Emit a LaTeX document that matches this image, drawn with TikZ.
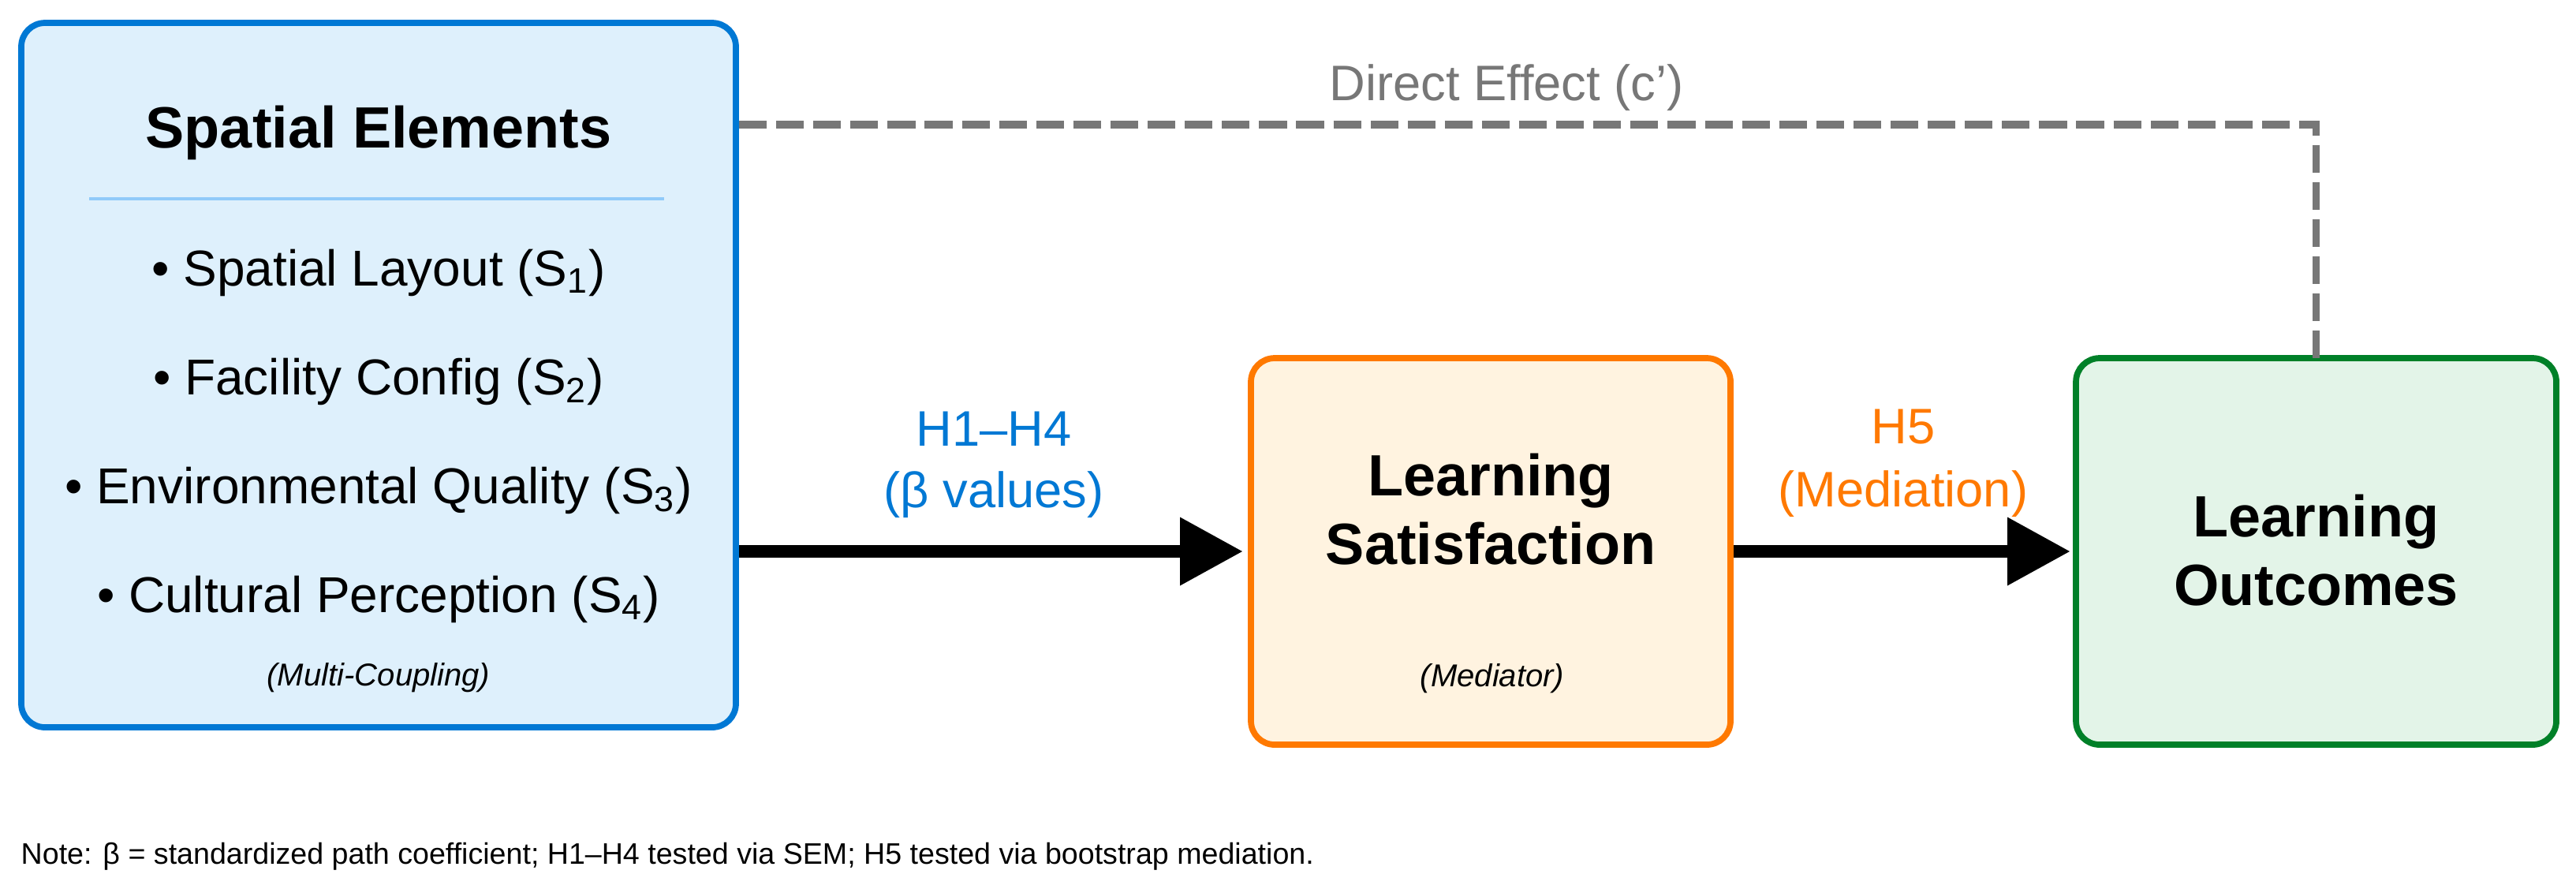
\documentclass[tikz,border=0pt]{standalone}
\usepackage{fontspec}
\setmainfont{Liberation Sans}
\usetikzlibrary{arrows.meta,calc}
\definecolor{bluebd}{RGB}{0,120,212}
\definecolor{bluefill}{RGB}{222,240,252}
\definecolor{sepblue}{RGB}{144,202,249}
\definecolor{orangebd}{RGB}{255,121,0}
\definecolor{orangefill}{RGB}{255,243,224}
\definecolor{greenbd}{RGB}{0,128,40}
\definecolor{greenfill}{RGB}{227,244,232}
\definecolor{dashgray}{RGB}{119,119,119}
\begin{document}
\begin{tikzpicture}[x=1cm,y=1cm,
  box/.style={draw, line width=2.2pt, rounded corners=0.3cm, inner sep=0pt, outer sep=0pt},
  boxtitle/.style={font=\fontsize{21}{25}\selectfont\bfseries, inner sep=0pt, anchor=base},
  itemtext/.style={font=\fontsize{18.2}{22}\selectfont, inner sep=0pt, anchor=base},
  lbl/.style={font=\fontsize{18}{22}\selectfont, inner sep=0pt, anchor=base},
  smallnote/.style={font=\fontsize{11.4}{14}\selectfont\itshape, inner sep=0pt, anchor=base},
  notetext/.style={font=\fontsize{10.7}{13}\selectfont, inner sep=0pt, anchor=base west},
  arr/.style={draw=black, line width=4.8pt, -{Triangle[length=0.80cm,width=0.82cm]}},
  dashline/.style={draw=dashgray, line width=2.6pt, dash pattern=on 10pt off 3.4pt}
]
\useasboundingbox (0,0) rectangle (32.66,-11.07);
\fill[white] (0,0) rectangle (32.66,-11.07);

% boxes
\node[box, draw=bluebd, fill=bluefill, minimum width=9.06cm, minimum height=8.93cm] (blue) at (4.80,-4.755) {};
\node[box, draw=orangebd, fill=orangefill, minimum width=6.08cm, minimum height=4.90cm] (orange) at (18.90,-6.99) {};
\node[box, draw=greenbd, fill=greenfill, minimum width=6.09cm, minimum height=4.90cm] (green) at (29.365,-6.99) {};

% spatial elements content
\node[boxtitle] (setitle) at (4.80,-1.87) {Spatial Elements};
\coordinate (sepL) at (1.13,-2.52);
\coordinate (sepR) at (8.42,-2.52);
\draw[sepblue, line width=0.9pt] (sepL) -- (sepR);
\node[itemtext] (s1) at (4.80,-3.62) {• Spatial Layout (S\textsubscript{1})};
\node[itemtext] (s2) at (4.80,-5.00) {• Facility Config (S\textsubscript{2})};
\node[itemtext] (s3) at (4.80,-6.38) {• Environmental Quality (S\textsubscript{3})};
\node[itemtext] (s4) at (4.80,-7.76) {• Cultural Perception (S\textsubscript{4})};
\node[smallnote] (mc) at (4.80,-8.69) {(Multi-Coupling)};

% mediator content
\node[boxtitle] (ls1) at (18.90,-6.28) {Learning};
\node[boxtitle] (ls2) at (18.90,-7.15) {Satisfaction};
\node[smallnote] (med) at (18.92,-8.70) {(Mediator)};

% outcome content
\node[boxtitle] (lo1) at (29.365,-6.80) {Learning};
\node[boxtitle] (lo2) at (29.365,-7.67) {Outcomes};

% arrows
\draw[arr, shorten <=0.04cm, shorten >=0.10cm] (blue.east |- orange.west) -- (orange.west);
\draw[arr, shorten <=0.04cm, shorten >=0.07cm] (orange.east) -- (green.west);
\coordinate (dtop) at (0,-1.58);
\draw[dashline, shorten <=0.04cm] (blue.east |- dtop) -| (green.north);

% arrow labels
\node[lbl, text=bluebd] (h14a) at (12.60,-5.65) {H1–H4};
\node[lbl, text=bluebd] (h14b) at (12.60,-6.43) {(β values)};
\node[lbl, text=orangebd] (h5a) at (24.13,-5.62) {H5};
\node[lbl, text=orangebd] (h5b) at (24.13,-6.42) {(Mediation)};
\node[lbl, text=dashgray] (de) at (19.10,-1.27) {Direct Effect (c’)};

% footnote
\node[notetext] (note) at (0.26,-10.95) {Note: β = standardized path coefficient; H1–H4 tested via SEM; H5 tested via bootstrap mediation.};
\end{tikzpicture}
\end{document}
